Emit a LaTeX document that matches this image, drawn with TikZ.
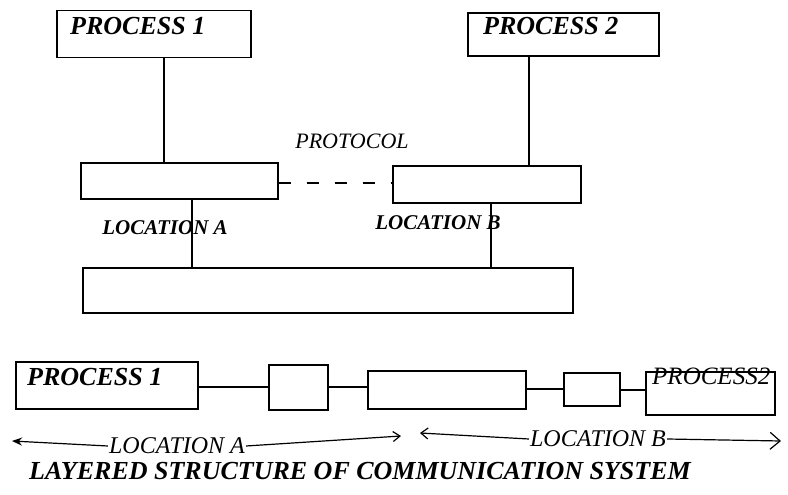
\documentclass[tikz,border=0pt]{standalone}
\usepackage{fontspec}
\setmainfont{Liberation Serif}
\usetikzlibrary{arrows.meta,calc}

\begin{document}
\begin{tikzpicture}[
  x=1pt, y=-1pt,
  box/.style={rectangle, draw, line width=1.4pt, inner sep=0pt},
  link/.style={line width=1.2pt},
  proclabel/.style={font=\fontsize{26}{26}\selectfont\bfseries\itshape, anchor=base west, inner sep=0pt},
  loclabel/.style={font=\fontsize{24}{24}\selectfont\itshape, inner sep=1pt},
  spanline/.style={line width=1.2pt}
]
\useasboundingbox (0,0) rectangle (788,495);

% Upper view: processes
\node[box, minimum width=194pt, minimum height=47pt] (p1) at (154,34) {};
\node[box, minimum width=191pt, minimum height=43pt] (p2) at (563.5,34.5) {};
\node[proclabel] (p1txt) at (70,35) {PROCESS 1};
\node[proclabel] (p2txt) at (483,35) {PROCESS 2};

% Protocol layer
\node[box, minimum width=197pt, minimum height=36pt] (la) at (179.5,181) {};
\node[box, minimum width=188pt, minimum height=37pt] (lb) at (487,184.5) {};
\node[loclabel, font=\fontsize{22}{22}\selectfont\itshape] (proto) at (352,141) {PROTOCOL};
\draw[link, dash pattern=on 12pt off 16pt] (la.east |- 0,183) -- (lb.west |- 0,183);

% Network
\node[box, minimum width=490pt, minimum height=45pt] (net) at (328,290.5) {};
\node[loclabel, font=\fontsize{21}{21}\selectfont\bfseries\itshape] (loca) at (165,228) {LOCATION A};
\node[loclabel, font=\fontsize{21}{21}\selectfont\bfseries\itshape] (locb) at (438,223) {LOCATION B};

% Vertical connectors
\draw[link] ([xshift=10pt]p1.south) -- ([xshift=10pt]p1.south |- la.north);
\draw[link] ([xshift=-34.5pt]p2.south) -- ([xshift=-34.5pt]p2.south |- lb.north);
\draw[link] ([xshift=12.5pt]la.south) -- ([xshift=12.5pt]la.south |- net.north);
\draw[link] ([xshift=4pt]lb.south) -- ([xshift=4pt]lb.south |- net.north);

% Lower view: layered chain
\node[box, minimum width=182pt, minimum height=47pt] (q1) at (107,385.5) {};
\node[proclabel] (q1txt) at (27,385) {PROCESS 1};
\node[box, minimum width=59pt, minimum height=45pt] (s1) at (298.5,387.5) {};
\node[box, minimum width=158pt, minimum height=38pt] (s2) at (447,390) {};
\node[box, minimum width=56pt, minimum height=33pt] (s3) at (592,389.5) {};
\node[box, minimum width=129pt, minimum height=43pt] (q2) at (710.5,393.5) {};
\node[anchor=base west, inner sep=0pt, font=\fontsize{25}{25}\selectfont\itshape] (q2txt) at (652,384) {PROCESS2};
\draw[link] (q1.east |- 0,387) -- (s1.west |- 0,387);
\draw[link] (s1.east |- 0,387) -- (s2.west |- 0,387);
\draw[link] (s2.east |- 0,389) -- (s3.west |- 0,389);
\draw[link] (s3.east |- 0,390) -- (q2.west |- 0,390);

% Location spans
\node[loclabel] (spana) at (177,446) {LOCATION A};
\node[loclabel] (spanb) at (598,439) {LOCATION B};
\coordinate (aleft) at (12,441);
\coordinate (aright) at (401,436);
\coordinate (bleft) at (420,433);
\coordinate (bright) at (781,441);
\draw[spanline, -{Stealth[length=10pt,width=8pt]}] (spana.west) -- (aleft);
\draw[spanline, -{Straight Barb[length=7pt,width=10pt]}] (spana.east) -- (aright);
\draw[spanline, -{Straight Barb[length=7pt,width=11pt]}] (spanb.west) -- (bleft);
\draw[spanline, -{Straight Barb[length=10pt,width=17pt]}] (spanb.east) -- (bright);

% Caption
\node[inner sep=0pt, font=\fontsize{26}{26}\selectfont\bfseries\itshape] (title) at (360,471) {LAYERED STRUCTURE OF COMMUNICATION SYSTEM};

\end{tikzpicture}
\end{document}
